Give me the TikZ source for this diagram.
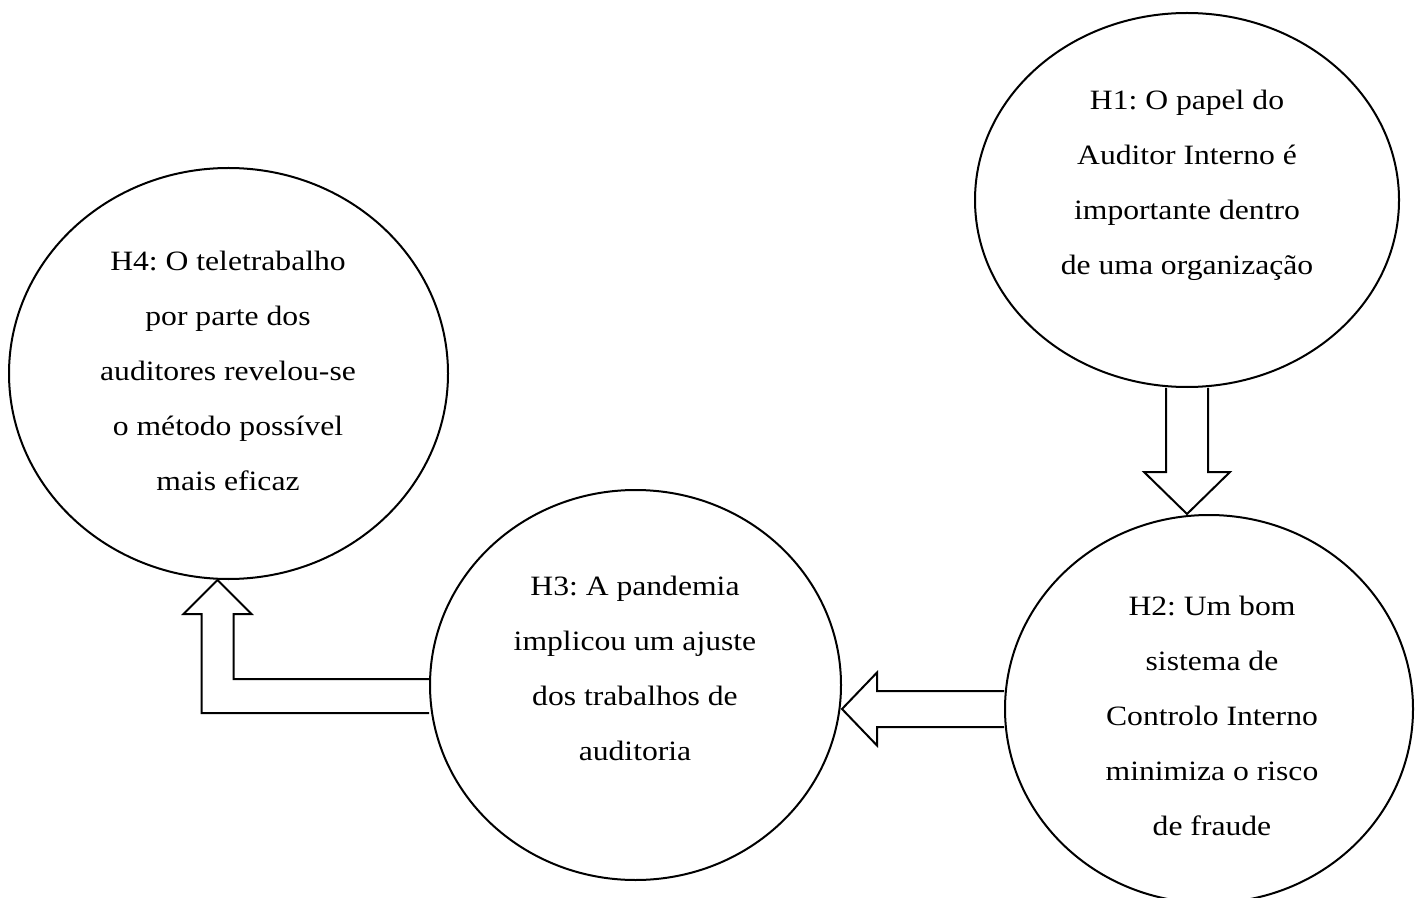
\documentclass[tikz,border=0pt]{standalone}
\usepackage{fontspec}
\setmainfont{Liberation Serif}[FakeStretch=1.13]
\usetikzlibrary{calc,shapes.geometric}
\frenchspacing
\tikzset{%
	every hypothesis/.style={
		ellipse,
		draw,
		line width=1pt,
		inner sep=0pt
	},
	hypothesis text/.style={
		align=center,
		inner sep=0pt,
		font=\fontsize{14}{27.5}\selectfont
	},
	block arrow/.style={
		draw,
		line width=1pt,
		line join=miter
	},
}

\begin{document}
\begin{tikzpicture}[x=0.5pt, y=-0.5pt]
	\useasboundingbox (0,0) rectangle (1423,898);
	
	\foreach \n/\x/\y/\w/\h in {1/1187/200/212/187, 2/1209/709/204/194, 3/635.5/685/205.5/195, 4/228.5/373.5/219.5/205.5}
	\node [every hypothesis, minimum width=\w pt, minimum height=\h pt] (h\n) at (\x,\y) {};
	
	\node [hypothesis text] (h1-text) at (1187,185) {H1: O papel do\\Auditor Interno é\\importante dentro\\de uma organização};
	\node [hypothesis text] (h2-text) at (1212,716) {H2: Um bom\\sistema de\\Controlo Interno\\minimiza o risco\\de fraude};
	\node [hypothesis text] (h3-text) at (635,668) {H3: A pandemia\\implicou um ajuste\\dos trabalhos de\\auditoria};
	\node [hypothesis text] (h4-text) at (228,371) {H4: O teletrabalho\\por parte dos\\auditores revelou-se\\o método possível\\mais eficaz};
	
	\coordinate (tip-12) at (h1.south |- h2.north);
	\coordinate (tip-23) at (h3.east |- h2.west);
	\coordinate (tip-34) at ($(h4.south)+(-11,0)$);
	
	\draw [block arrow] ($(h1.south)+(-21,0)$) -- ($(tip-12)+(-21,-42)$) -- ++(-22,0) -- (tip-12)
	-- ++(43,-42) -- ++(-22,0) -- ($(h1.south)+(21,0)$);
	
	\draw [block arrow] ($(h2.west)+(0,-18)$) -- ($(tip-23)+(35,-18)$) -- ++(0,-18.5) -- (tip-23)
	-- ++(35,36.5) -- ++(0,-18.5) -- ($(h2.west)+(0,18)$);
	
	\draw [block arrow] ($(h3.west)+(0,-6)$) -| ($(tip-34)+(16,34)$) -- ++(18,0) -- (tip-34)
	-- ++(-34,34) -- ++(18,0) |- ($(h3.west)+(0,28)$);
	
\end{tikzpicture}
\end{document}
